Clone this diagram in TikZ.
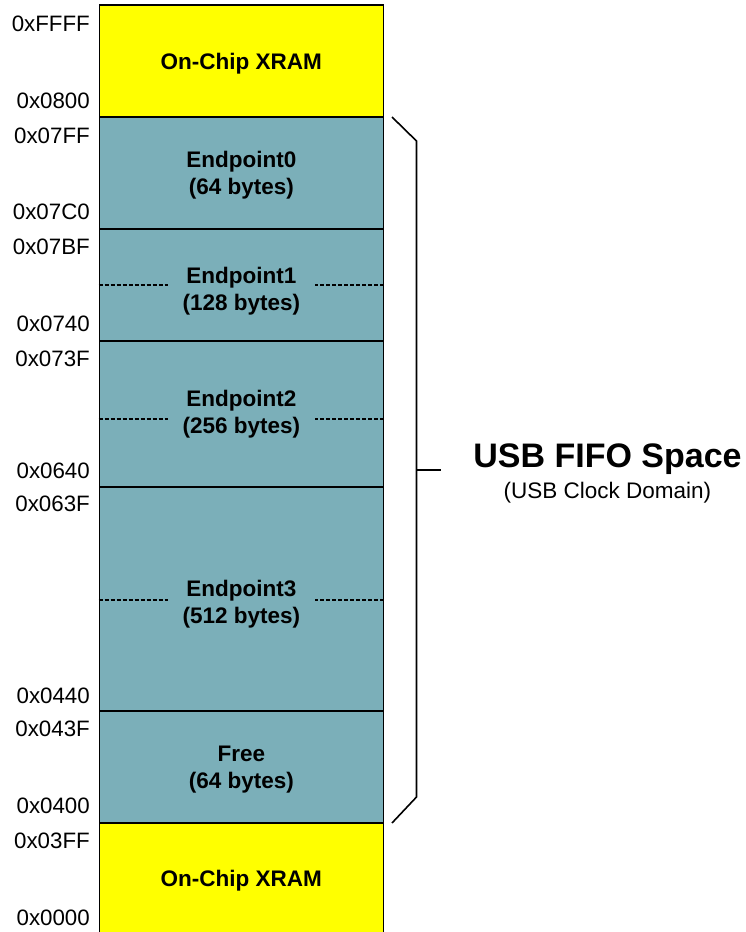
\documentclass[tikz,border=0pt]{standalone}
\usepackage{fontspec}
\setmainfont{Liberation Sans}
\definecolor{xramyellow}{RGB}{255,255,0}
\definecolor{fifoteal}{RGB}{123,175,185}
\begin{document}
\begin{tikzpicture}[x=1pt,y=-1pt,
  region/.style={draw=black,line width=1.3pt,minimum width=284pt,inner sep=0pt},
  xram/.style={region,fill=xramyellow},
  fifo/.style={region,fill=fifoteal},
  rtext/.style={font=\fontsize{22.5}{27}\selectfont\bfseries,align=center,inner sep=0pt},
  addr/.style={anchor=east,inner sep=0pt,font=\fontsize{22.3}{26}\selectfont},
  divider/.style={line width=1.7pt,dash pattern=on 4pt off 2pt},
  bracket/.style={line width=1.6pt}]
\useasboundingbox (0,0) rectangle (746,932);
% regions
\node[xram,minimum height=112pt] (xtop) at (241.3,61) {};
\node[fifo,minimum height=112pt] (ep0) at (241.3,173) {};
\node[fifo,minimum height=112pt] (ep1) at (241.3,285) {};
\node[fifo,minimum height=146pt] (ep2) at (241.3,414) {};
\node[fifo,minimum height=224pt] (ep3) at (241.3,599) {};
\node[fifo,minimum height=112pt] (free) at (241.3,767) {};
\node[xram,minimum height=120pt] (xbot) at (241.3,883) {};
% dashed dividers
\draw[divider] (ep1.west) -- ++(69,0);
\draw[divider] (ep1.east) -- ++(-69,0);
\draw[divider] ([yshift=-5pt]ep2.west) -- ++(69,0);
\draw[divider] ([yshift=-5pt]ep2.east) -- ++(-69,0);
\draw[divider] ([yshift=-1pt]ep3.west) -- ++(69,0);
\draw[divider] ([yshift=-1pt]ep3.east) -- ++(-69,0);
% region texts
\node[rtext] (xtoptxt) at (241.3,63.5) {On-Chip XRAM};
\node[rtext] (ep0txt) at (241.3,175.5) {Endpoint0\\(64 bytes)};
\node[rtext] (ep1txt) at (241.3,291.3) {Endpoint1\\(128 bytes)};
\node[rtext] (ep2txt) at (241.3,413.7) {Endpoint2\\(256 bytes)};
\node[rtext] (ep3txt) at (241.3,603.7) {Endpoint3\\(512 bytes)};
\node[rtext] (freetxt) at (241.3,769.8) {Free\\(64 bytes)};
\node[rtext] (xbottxt) at (241.3,880.5) {On-Chip XRAM};
% address labels
\node[addr] (a1) at (90,24) {0xFFFF};
\node[addr] (a2) at (90,100.5) {0x0800};
\node[addr] (a3) at (90,135.5) {0x07FF};
\node[addr] (a4) at (90,212) {0x07C0};
\node[addr] (a5) at (90,247) {0x07BF};
\node[addr] (a6) at (90,324) {0x0740};
\node[addr] (a7) at (90,359) {0x073F};
\node[addr] (a8) at (90,471) {0x0640};
\node[addr] (a9) at (90,504) {0x063F};
\node[addr] (a10) at (90,696) {0x0440};
\node[addr] (a11) at (90,729) {0x043F};
\node[addr] (a12) at (90,806) {0x0400};
\node[addr] (a13) at (90,841) {0x03FF};
\node[addr] (a14) at (90,918) {0x0000};
% bracket
\coordinate (b1) at (392,117);
\coordinate (b2) at (416.5,141);
\coordinate (b3) at (416.5,797);
\coordinate (b4) at (392,823);
\coordinate (bm) at (416.5,470);
\coordinate (bt) at (441,470);
\draw[bracket] (b1) -- (b2) -- (b3) -- (b4);
\draw[bracket] (bm) -- (bt);
% title
\node[font=\fontsize{34}{40}\selectfont\bfseries,anchor=base] (title) at (607.5,467) {USB FIFO Space};
\node[font=\fontsize{22.5}{27}\selectfont,anchor=base] (sub) at (607.5,498) {(USB Clock Domain)};
\end{tikzpicture}
\end{document}
